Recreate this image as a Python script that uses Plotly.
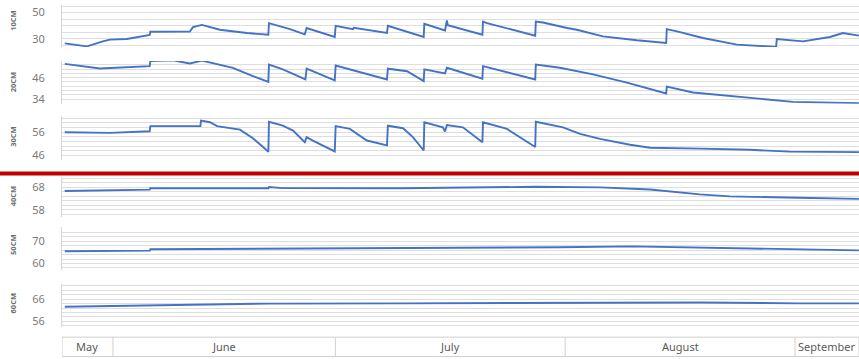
import pandas as pd
import plotly.graph_objects as go

# ---------------- data ----------------
depths = ["10CM", "20CM", "30CM", "40CM", "50CM", "60CM"]

d10 = ["2023-05-25 12:00", "2023-05-28 12:00", "2023-05-30 15:00", "2023-05-31 14:00",
       "2023-06-02 21:00", "2023-06-05 01:00", "2023-06-05 23:00", "2023-06-06 01:00",
       "2023-06-11 09:00", "2023-06-11 19:00", "2023-06-13 00:00", "2023-06-15 10:00",
       "2023-06-19 02:00", "2023-06-21 23:00", "2023-06-22 01:00", "2023-06-24 21:00",
       "2023-06-26 21:00", "2023-06-27 03:00", "2023-06-30 22:00", "2023-07-01 01:00",
       "2023-07-03 09:00", "2023-07-03 12:00", "2023-07-07 23:00", "2023-07-08 02:00",
       "2023-07-12 22:00", "2023-07-13 00:00", "2023-07-15 19:00", "2023-07-16 01:00",
       "2023-07-16 04:00", "2023-07-20 20:00", "2023-07-20 22:00", "2023-07-21 11:00",
       "2023-07-27 23:00", "2023-07-28 01:00", "2023-07-29 00:00", "2023-08-01 06:00",
       "2023-08-02 14:00", "2023-08-06 02:00", "2023-08-10 16:00", "2023-08-14 15:00",
       "2023-08-14 17:00", "2023-08-16 02:00", "2023-08-19 14:00", "2023-08-24 04:00",
       "2023-08-29 11:00", "2023-08-29 13:00", "2023-09-02 02:00", "2023-09-05 17:00",
       "2023-09-07 11:00", "2023-09-09 15:00"]
v10 = [26.7, 24.4, 28.2, 29.5,
       30.0, 32.5, 33.0, 35.5,
       35.7, 39.0, 40.7, 37.0,
       34.5, 33.2, 42.0, 37.5,
       33.5, 38.3, 31.5, 40.0,
       37.5, 38.5, 34.5, 40.0,
       31.5, 41.5, 36.5, 44.0,
       40.5, 33.2, 43.2, 42.0,
       32.5, 43.2, 42.5, 38.3,
       37.0, 32.0, 29.0, 27.0,
       37.5, 35.7, 30.7, 25.7,
       24.0, 30.0, 28.2, 31.5,
       34.5, 32.5]

d20 = ["2023-05-25 12:00", "2023-05-30 06:00", "2023-06-05 23:00", "2023-06-06 01:00",
       "2023-06-09 02:00", "2023-06-11 09:00", "2023-06-13 00:00", "2023-06-17 04:00",
       "2023-06-19 21:00", "2023-06-21 23:00", "2023-06-22 01:00", "2023-06-23 22:00",
       "2023-06-26 23:00", "2023-06-27 03:00", "2023-06-30 22:00", "2023-07-01 01:00",
       "2023-07-07 23:00", "2023-07-08 02:00", "2023-07-10 16:00", "2023-07-12 22:00",
       "2023-07-13 00:00", "2023-07-15 19:00", "2023-07-16 01:00", "2023-07-20 20:00",
       "2023-07-20 22:00", "2023-07-27 23:00", "2023-07-28 01:00", "2023-07-29 13:00",
       "2023-07-31 07:00", "2023-08-04 18:00", "2023-08-09 08:00", "2023-08-14 15:00",
       "2023-08-14 17:00", "2023-08-18 06:00", "2023-08-25 00:00", "2023-08-31 17:00",
       "2023-09-09 15:00"]
v20 = [53.7, 51.1, 52.4, 55.3,
       55.7, 53.9, 55.5, 51.5,
       46.9, 43.6, 53.3, 50.6,
       45.0, 51.0, 44.5, 52.8,
       45.0, 51.0, 49.6, 44.1,
       50.6, 48.4, 51.5, 45.4,
       52.4, 45.0, 53.3, 52.4,
       51.5, 47.8, 43.2, 37.2,
       41.0, 37.7, 35.0, 32.5,
       31.8]

d30 = ["2023-05-25 12:00", "2023-05-31 14:00", "2023-06-05 23:00", "2023-06-06 01:00",
       "2023-06-12 19:00", "2023-06-12 21:00", "2023-06-14 02:00", "2023-06-15 01:00",
       "2023-06-18 03:00", "2023-06-19 21:00", "2023-06-21 06:00", "2023-06-21 23:00",
       "2023-06-22 01:00", "2023-06-23 22:00", "2023-06-25 07:00", "2023-06-26 21:00",
       "2023-06-27 03:00", "2023-06-27 23:00", "2023-06-30 22:00", "2023-07-01 01:00",
       "2023-07-02 23:00", "2023-07-05 06:00", "2023-07-07 23:00", "2023-07-08 02:00",
       "2023-07-10 03:00", "2023-07-11 11:00", "2023-07-12 22:00", "2023-07-13 00:00",
       "2023-07-15 12:00", "2023-07-15 19:00", "2023-07-16 01:00", "2023-07-18 05:00",
       "2023-07-20 20:00", "2023-07-20 22:00", "2023-07-24 04:00", "2023-07-26 20:00",
       "2023-07-27 23:00", "2023-07-28 01:00", "2023-07-31 17:00", "2023-08-03 00:00",
       "2023-08-05 17:00", "2023-08-09 18:00", "2023-08-12 11:00", "2023-08-19 05:00",
       "2023-08-25 22:00", "2023-08-31 08:00", "2023-09-09 15:00"]
v30 = [56.0, 55.7, 56.4, 58.6,
       58.6, 61.0, 60.3, 58.6,
       57.1, 53.4, 49.6, 47.5,
       60.5, 58.8, 56.7, 51.7,
       53.9, 52.4, 47.7, 58.6,
       57.4, 52.4, 50.3, 58.8,
       57.7, 53.9, 48.1, 60.3,
       58.1, 56.3, 59.1, 58.1,
       51.7, 60.3, 57.4, 51.7,
       49.6, 60.5, 58.1, 55.3,
       53.1, 50.6, 49.3, 48.9,
       48.4, 47.6, 47.4]

d40 = ["2023-05-25 12:00", "2023-06-05 23:00", "2023-06-06 01:00", "2023-06-21 23:00",
       "2023-06-22 01:00", "2023-06-23 22:00", "2023-07-10 00:00", "2023-07-28 01:00",
       "2023-08-05 17:00", "2023-08-12 11:00", "2023-08-19 04:00", "2023-08-23 05:00",
       "2023-09-01 12:00", "2023-09-09 15:00"]
v40 = [66.4, 67.0, 67.6, 67.6,
       68.2, 67.7, 67.6, 68.3,
       68.0, 67.1, 64.9, 64.0,
       63.4, 62.9]

d50 = ["2023-05-25 12:00", "2023-06-05 23:00", "2023-06-06 01:00", "2023-06-22 00:00",
       "2023-07-15 00:00", "2023-07-31 07:00", "2023-08-10 00:00", "2023-08-19 04:00",
       "2023-08-27 00:00", "2023-09-01 12:00", "2023-09-09 15:00"]
v50 = [65.5, 65.8, 66.4, 66.7,
       66.8, 67.3, 67.7, 67.2,
       66.5, 66.2, 65.9]

d60 = ["2023-05-25 12:00", "2023-06-06 00:00", "2023-06-22 00:00", "2023-07-10 00:00",
       "2023-07-31 07:00", "2023-08-19 04:00", "2023-09-01 12:00", "2023-09-09 15:00"]
v60 = [62.6, 63.3, 64.0, 64.1,
       64.4, 64.5, 64.1, 64.1]

tick_labels = [[30, 50], [34, 46], [46, 56], [58, 68], [60, 70], [56, 66]]

months = ["May", "June", "July", "August", "September"]
month_starts = ["2023-05-01", "2023-06-01", "2023-07-01", "2023-08-01", "2023-09-01", "2023-10-01"]

# ---------------- layout constants ----------------
W, H = 859, 359
ML = 62
x_start, x_end = "2023-05-25 03:00", "2023-09-09 15:15"

panel_px = [(5, 47.4), (61.5, 104.5), (117, 161), (178, 219), (229, 272), (286, 330)]
ranges = [[23.9, 55.8], [31.5, 55.3], [44.16, 62.97], [54.78, 72.85], [57.19, 76.38], [53.31, 73.04]]
minor = [(0, 5), (34, 2.4), (46, 2), (58, 2), (60, 2), (56, 2)]
title_px = [21, 83, 138, 198, 247, 306]

series = [(d10, v10), (d20, v20), (d30, v30), (d40, v40), (d50, v50), (d60, v60)]

def py(px):
    return 1 - px / H

fig = go.Figure()
LINE = "#4472C4"
GRID = "#dedede"

for i, (d, v) in enumerate(series):
    n = "" if i == 0 else str(i + 1)
    fig.add_trace(go.Scatter(x=pd.to_datetime(d), y=v, mode="lines",
                             line=dict(color=LINE, width=1.9),
                             xaxis="x" + n, yaxis="y" + n,
                             showlegend=False, hoverinfo="skip"))
    top, bot = panel_px[i]
    fig.layout["xaxis" + n] = dict(
        domain=[0, 1], anchor="y" + n, range=[x_start, x_end], type="date",
        showticklabels=False, showgrid=False, zeroline=False, showline=False,
        ticks="", **({} if i == 0 else {"matches": "x"}))
    fig.layout["yaxis" + n] = dict(
        domain=[py(bot), py(top)], anchor="x" + n, range=ranges[i],
        tickmode="array", tickvals=tick_labels[i],
        ticklabelstandoff=14,
        tickfont=dict(family="Noto Sans", size=11, color="#7a7a7a"),
        showgrid=True, gridcolor=GRID, gridwidth=1,
        minor=dict(tickmode="linear", tick0=minor[i][0], dtick=minor[i][1],
                   showgrid=True, gridcolor=GRID, gridwidth=1, ticks=""),
        zeroline=False, showline=True, linecolor="#d4d4d4", linewidth=1, ticks="")
    fig.add_annotation(text="<b>" + depths[i] + "</b>", textangle=-90,
                       xref="paper", yref="paper",
                       x=(13 - ML) / (W - ML), y=py(title_px[i]),
                       xanchor="center", yanchor="middle", showarrow=False,
                       font=dict(family="Noto Sans", size=7.5, color="#6e6e6e"))

# red separator line
fig.add_shape(type="line", xref="paper", yref="paper",
              x0=-ML / (W - ML), x1=1, y0=py(175), y1=py(175),
              line=dict(color="#C00000", width=4))

# month strip
xs, xe = pd.Timestamp(x_start), pd.Timestamp(x_end)
fig.add_shape(type="rect", xref="x6", yref="paper", x0=xs, x1=xe,
              y0=py(359.5), y1=py(340), line=dict(color="#d0d0d0", width=1),
              fillcolor="rgba(0,0,0,0)")
for i, m in enumerate(months):
    a = max(pd.Timestamp(month_starts[i]), xs)
    b = min(pd.Timestamp(month_starts[i + 1]), xe)
    if a > xs:
        fig.add_shape(type="line", xref="x6", yref="paper", x0=a, x1=a,
                      y0=py(359.5), y1=py(340), line=dict(color="#d0d0d0", width=1))
    fig.add_annotation(text=m, xref="x6", yref="paper", x=a + (b - a) / 2,
                       y=py(349.5), showarrow=False, xanchor="center", yanchor="middle",
                       font=dict(family="Noto Sans", size=11, color="#5a5a5a"))

fig.update_layout(width=W, height=H, margin=dict(l=ML, r=0, t=0, b=0),
                  paper_bgcolor="white", plot_bgcolor="white", showlegend=False)

fig.write_html("out.html", config={"displayModeBar": False},
               post_script="document.body.style.margin='0';document.body.style.overflow='hidden';")
